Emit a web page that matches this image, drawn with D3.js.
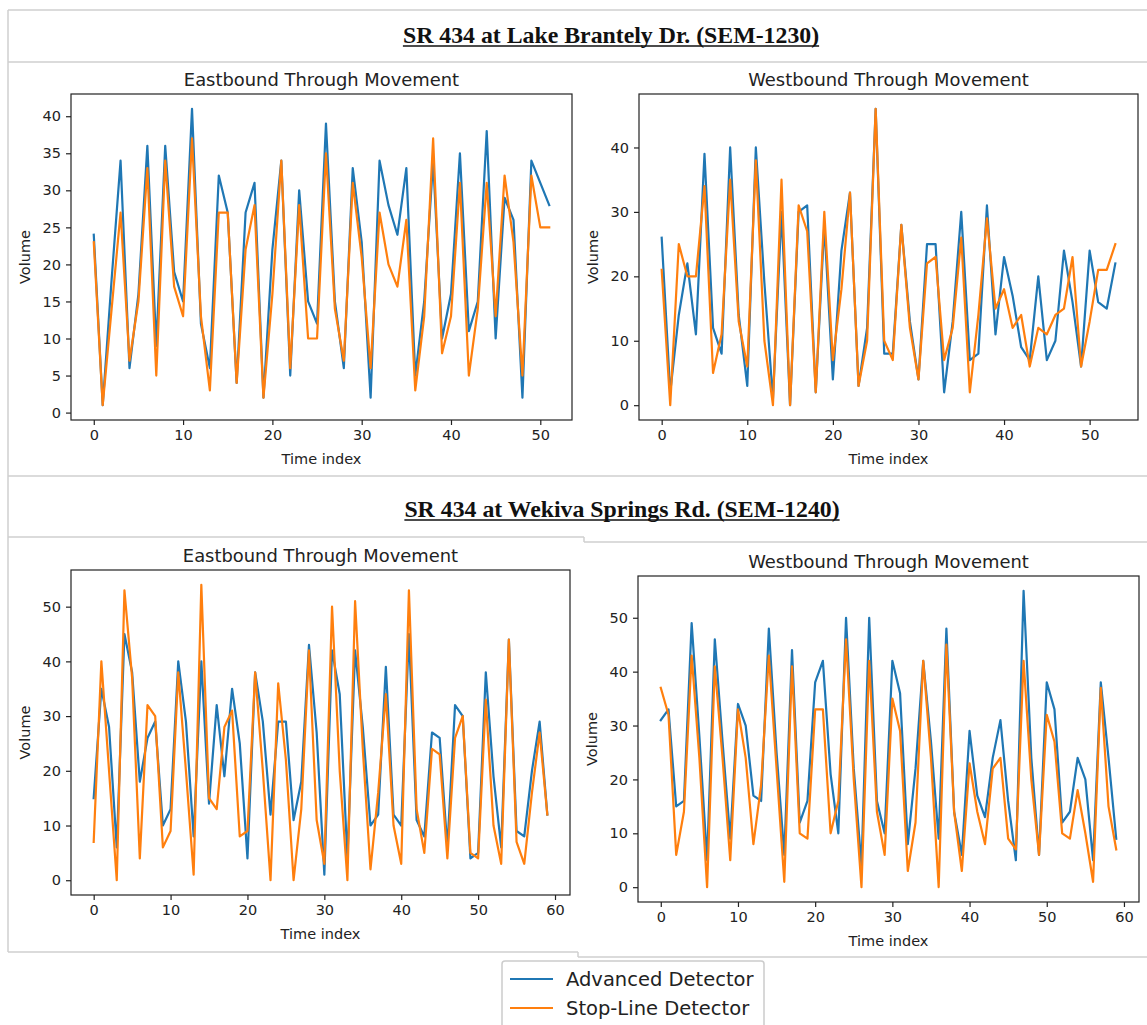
<!DOCTYPE html>
<html>
<head>
<meta charset="utf-8">
<script src="https://cdn.jsdelivr.net/npm/d3@7"></script>
<style>
  html, body { margin: 0; padding: 0; background: #fff; }
  svg { display: block; }
  .tick text { font-family: "DejaVu Sans", sans-serif; }
</style>
</head>
<body>
<svg id="chart" width="1147" height="1025"></svg>
<script>
// ---- data: per-cycle through volumes, advanced vs stop-line detector ----
const seriesNames = ["Advanced Detector", "Stop-Line Detector"];
const seriesColors = ["#1f77b4", "#ff7f0e"];

const sectionTitles = [
  "SR 434 at Lake Brantely Dr. (SEM-1230)",
  "SR 434 at Wekiva Springs Rd. (SEM-1240)"
];
const panelTitles = ["Eastbound Through Movement", "Westbound Through Movement",
                     "Eastbound Through Movement", "Westbound Through Movement"];

// SEM-1230 eastbound (52 intervals)
const brantelyEbAdvanced = [24,1,18,34,6,16,36,9,36,19, 15,41,12,6,32,27,4,27,31,2,
  22,34,5,30,15,12,39,15,6,33, 23,2,34,28,24,33,5,15,34,10, 16,35,11,15,38,10,29,26,2,34, 31,28];
const brantelyEbStopLine = [23,1,14,27,7,15,33,5,34,17, 13,37,13,3,27,27,4,22,28,2,
  16,34,6,28,10,10,35,14,7,31, 21,6,27,20,17,26,3,13,37,8, 13,31,5,14,31,13,32,23,5,32, 25,25];

// SEM-1230 westbound (54 intervals)
const brantelyWbAdvanced = [26,2,14,22,11,39,12,8,40,14, 3,40,19,1,30,0,30,31,2,28,
  4,24,33,3,12,46,8,8,28,13, 4,25,25,2,13,30,7,8,31,11, 23,17,9,7,20,7,10,24,16,6, 24,16,15,22];
const brantelyWbStopLine = [21,0,25,20,20,34,5,11,35,13, 6,38,10,0,35,0,31,27,2,30,
  7,18,33,3,10,46,10,7,28,12, 4,22,23,7,12,26,2,14,29,15, 18,12,14,6,12,11,14,15,23,6, 13,21,21,25];

// SEM-1240 eastbound (60 intervals)
const wekivaEbAdvanced = [15,35,28,6,45,38,18,26,29,10, 13,40,29,8,40,14,32,19,35,25,
  4,38,29,12,29,29,11,18,43,27, 1,42,34,4,42,28,10,12,39,12, 10,45,11,8,27,26,6,32,30,4,
  5,38,19,6,44,9,8,20,29,12];
const wekivaEbStopLine = [7,40,20,0,53,37,4,32,30,6, 9,38,20,1,54,15,13,28,31,8,
  9,38,20,0,36,22,0,13,42,11, 3,50,20,0,51,24,2,16,34,10, 3,53,13,5,24,23,4,26,30,5,
  4,33,10,3,44,7,3,16,27,12];

// SEM-1240 westbound (60 intervals)
const wekivaWbAdvanced = [31,33,15,16,49,28,5,46,27,9, 34,30,17,16,48,25,6,44,12,16,
  38,42,21,10,50,22,4,50,16,10, 42,36,8,22,42,27,9,48,14,6, 29,17,13,24,31,16,5,55,24,6,
  38,33,12,14,24,20,5,38,24,9];
const wekivaWbStopLine = [37,32,6,14,43,24,0,41,24,5, 33,24,8,19,43,22,1,41,10,9,
  33,33,10,16,46,20,0,42,14,6, 35,29,3,12,42,24,0,45,14,3, 23,14,8,22,24,9,7,42,20,6,
  32,27,10,9,18,10,1,37,15,7];

// tick values per panel
const yTicksBrantelyEb = [0,5,10,15,20,25,30,35,40];
const yTicksBrantelyWb = [0,10,20,30,40];
const yTicksWekiva = [0,10,20,30,40,50];
const xTicksBrantely = [0,10,20,30,40,50];
const xTicksWekiva = [0,10,20,30,40,50,60];

// ---- layout ----
const svg = d3.select("#chart");
svg.append("rect").attr("width", 1147).attr("height", 1025).attr("fill", "#fff");

const panels = [
  { box: [71, 94, 572, 420],   adv: brantelyEbAdvanced, stop: brantelyEbStopLine, yTicks: yTicksBrantelyEb, xTicks: xTicksBrantely, title: panelTitles[0] },
  { box: [639, 94, 1138, 420], adv: brantelyWbAdvanced, stop: brantelyWbStopLine, yTicks: yTicksBrantelyWb, xTicks: xTicksBrantely, title: panelTitles[1] },
  { box: [71, 570, 570, 895],  adv: wekivaEbAdvanced,   stop: wekivaEbStopLine,   yTicks: yTicksWekiva,     xTicks: xTicksWekiva,   title: panelTitles[2] },
  { box: [638, 576, 1139, 902], adv: wekivaWbAdvanced,  stop: wekivaWbStopLine,   yTicks: yTicksWekiva,     xTicks: xTicksWekiva,   title: panelTitles[3] }
];

// page frame lines (light gray table rules)
const rule = "#cfcfcf";
const frame = svg.append("g").attr("stroke", rule).attr("stroke-width", 1.5).attr("fill", "none");
[
  [8, 10, 1147, 10], [8, 62, 1147, 62], [8, 476, 1147, 476],
  [8, 537, 584, 537], [584, 537, 584, 542], [584, 542, 1147, 542],
  [8, 952, 578, 952], [578, 952, 578, 957], [578, 957, 1147, 957],
  [8, 10, 8, 952]
].forEach(([x1, y1, x2, y2]) => frame.append("line").attr("x1", x1).attr("y1", y1).attr("x2", x2).attr("y2", y2));

// section headings (serif, bold, underlined)
[[sectionTitles[0], 611, 43], [sectionTitles[1], 622, 517]].forEach(([txt, cx, by]) => {
  const t = svg.append("text").attr("x", cx).attr("y", by)
    .attr("text-anchor", "middle")
    .attr("font-family", "'Liberation Serif', 'Times New Roman', serif")
    .attr("font-weight", "bold").attr("font-size", 23.8).attr("fill", "#111")
    .text(txt);
  const w = t.node().getComputedTextLength();
  svg.append("line").attr("x1", cx - w / 2).attr("x2", cx + w / 2)
    .attr("y1", by + 3).attr("y2", by + 3)
    .attr("stroke", "#111").attr("stroke-width", 1.5);
});

const font = "'DejaVu Sans', sans-serif";

panels.forEach(p => {
  const [l, t, r, b] = p.box;
  const n = p.adv.length;
  const xPad = (n - 1) * 0.05;
  const allVals = p.adv.concat(p.stop);
  const yMin = d3.min(allVals), yMax = d3.max(allVals);
  const yPad = (yMax - yMin) * 0.05;

  const x = d3.scaleLinear().domain([-xPad, n - 1 + xPad]).range([l, r]);
  const y = d3.scaleLinear().domain([yMin - yPad, yMax + yPad]).range([b, t]);

  const g = svg.append("g");

  // series lines
  const line = d3.line().x((d, i) => x(i)).y(d => y(d));
  [p.adv, p.stop].forEach((vals, k) => {
    g.append("path").datum(vals)
      .attr("d", line).attr("fill", "none")
      .attr("stroke", seriesColors[k]).attr("stroke-width", 2.2)
      .attr("stroke-linejoin", "round").attr("stroke-linecap", "square");
  });

  // frame
  g.append("rect").attr("x", l).attr("y", t).attr("width", r - l).attr("height", b - t)
    .attr("fill", "none").attr("stroke", "#222").attr("stroke-width", 1.2);

  // axes
  const xAxis = d3.axisBottom(x).tickValues(p.xTicks).tickSize(5).tickPadding(5).tickFormat(d3.format("d"));
  const yAxis = d3.axisLeft(y).tickValues(p.yTicks).tickSize(5).tickPadding(5).tickFormat(d3.format("d"));
  const gx = g.append("g").attr("transform", `translate(0,${b})`).call(xAxis);
  const gy = g.append("g").attr("transform", `translate(${l},0)`).call(yAxis);
  [gx, gy].forEach(ax => {
    ax.select(".domain").remove();
    ax.selectAll(".tick line").attr("stroke", "#222").attr("stroke-width", 1.2);
    ax.selectAll(".tick text").attr("font-family", font).attr("font-size", 14.5).attr("fill", "#222");
  });

  // title and axis labels
  g.append("text").attr("x", (l + r) / 2).attr("y", t - 8).attr("text-anchor", "middle")
    .attr("font-family", font).attr("font-size", 17.9).attr("fill", "#222").text(p.title);
  g.append("text").attr("x", (l + r) / 2).attr("y", b + 44).attr("text-anchor", "middle")
    .attr("font-family", font).attr("font-size", 14.5).attr("fill", "#222").text("Time index");
  g.append("text").attr("transform", `translate(${l - 41},${(t + b) / 2}) rotate(-90)`)
    .attr("text-anchor", "middle")
    .attr("font-family", font).attr("font-size", 14.5).attr("fill", "#222").text("Volume");
});

// legend
const lg = svg.append("g");
lg.append("rect").attr("x", 502).attr("y", 961).attr("width", 262).attr("height", 80)
  .attr("rx", 3).attr("fill", "#fff").attr("stroke", "#cccccc").attr("stroke-width", 1.5);
seriesNames.forEach((name, k) => {
  const yy = 979 + k * 29;
  lg.append("line").attr("x1", 510).attr("x2", 553).attr("y1", yy).attr("y2", yy)
    .attr("stroke", seriesColors[k]).attr("stroke-width", 2.2);
  lg.append("text").attr("x", 566).attr("y", yy + 7)
    .attr("font-family", font).attr("font-size", 19.5).attr("fill", "#222").text(name);
});
</script>
</body>
</html>
